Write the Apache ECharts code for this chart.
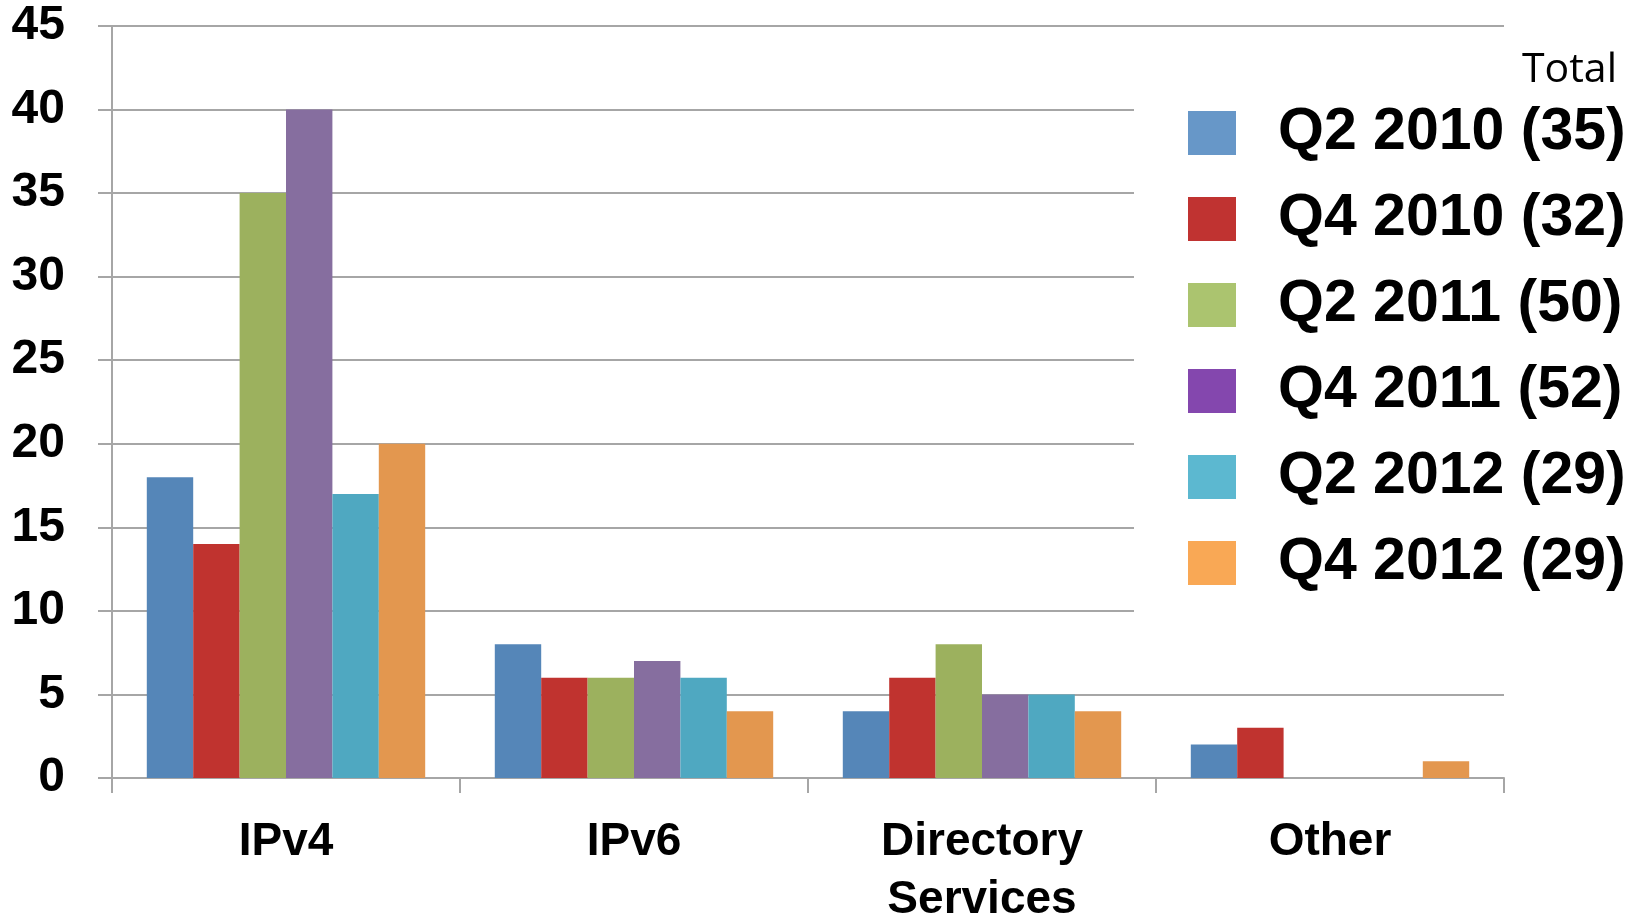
<!DOCTYPE html>
<html>
<head>
<meta charset="UTF-8">
<script src="https://cdn.jsdelivr.net/npm/echarts@6/dist/echarts.min.js"></script>
<style>
  html, body { margin: 0; padding: 0; background: #fff; }
  #chart { width: 1646px; height: 918px; }
</style>
</head>
<body>
<div id="chart"></div>
<script>
// categories and series values
var categories = ['IPv4', 'IPv6', 'Directory\nServices', 'Other'];
var seriesNames = ['Q2 2010 (35)', 'Q4 2010 (32)', 'Q2 2011 (50)', 'Q4 2011 (52)', 'Q2 2012 (29)', 'Q4 2012 (29)'];
var q2_2010 = [18, 8, 4, 2];
var q4_2010 = [14, 6, 6, 3];
var q2_2011 = [35, 6, 8, 0];
var q4_2011 = [40, 7, 5, 0];
var q2_2012 = [17, 6, 5, 0];
var q4_2012 = [20, 4, 4, 1];
var values = [q2_2010, q4_2010, q2_2011, q4_2011, q2_2012, q4_2012];

var barColors = ['#5586B8', '#C0332F', '#9CB15E', '#866E9F', '#4FA8C1', '#E3974F'];
var legendColors = ['#6797C8', '#C03331', '#ABC46F', '#8447AE', '#5CB8D0', '#F9A855'];

var gray = '#A6A6A6';
var chart = echarts.init(document.getElementById('chart'));

var series = [];
var legendData = [];
for (var i = 0; i < seriesNames.length; i++) {
  series.push({
    name: seriesNames[i],
    type: 'bar',
    data: values[i],
    barGap: '0%',
    barCategoryGap: '20%',
    itemStyle: { color: barColors[i] },
    emphasis: { disabled: true }
  });
  legendData.push({ name: seriesNames[i], itemStyle: { color: legendColors[i] } });
}

var option = {
  animation: false,
  backgroundColor: '#fff',
  title: {
    text: 'Total',
    right: 29,
    top: 50,
    padding: 0,
    textStyle: { fontFamily: 'Open Sans', fontWeight: 'normal', fontSize: 41, color: '#000' }
  },
  grid: { left: 112, right: 142, top: 26, bottom: 140, containLabel: false, outerBoundsMode: 'none' },
  legend: {
    orient: 'vertical',
    left: 1134,
    top: 34,
    padding: [69, 6, 40, 54],
    backgroundColor: '#fff',
    icon: 'rect',
    itemWidth: 48,
    itemHeight: 44,
    itemGap: 26,
    selectedMode: false,
    data: legendData,
    textStyle: {
      fontFamily: 'Liberation Sans',
      fontWeight: 'bold',
      fontSize: 59,
      lineHeight: 60,
      color: '#000',
      padding: [0, 0, 0, 37]
    }
  },
  xAxis: {
    type: 'category',
    data: categories,
    axisLine: { lineStyle: { color: gray, width: 2 } },
    axisTick: { show: true, length: 15, interval: 0, lineStyle: { color: gray, width: 2 } },
    axisLabel: {
      interval: 0,
      margin: 35,
      fontFamily: 'Liberation Sans',
      fontWeight: 'bold',
      fontSize: 46,
      lineHeight: 58,
      color: '#000'
    }
  },
  yAxis: {
    type: 'value',
    min: 0,
    max: 45,
    interval: 5,
    axisLine: { show: true, lineStyle: { color: gray, width: 2 } },
    axisTick: { show: true, length: 14, lineStyle: { color: gray, width: 2 } },
    splitLine: { show: true, lineStyle: { color: gray, width: 2 } },
    axisLabel: {
      margin: 47,
      fontFamily: 'Liberation Sans',
      fontWeight: 'bold',
      fontSize: 48,
      color: '#000'
    }
  },
  series: series
};

chart.setOption(option);
</script>
</body>
</html>
